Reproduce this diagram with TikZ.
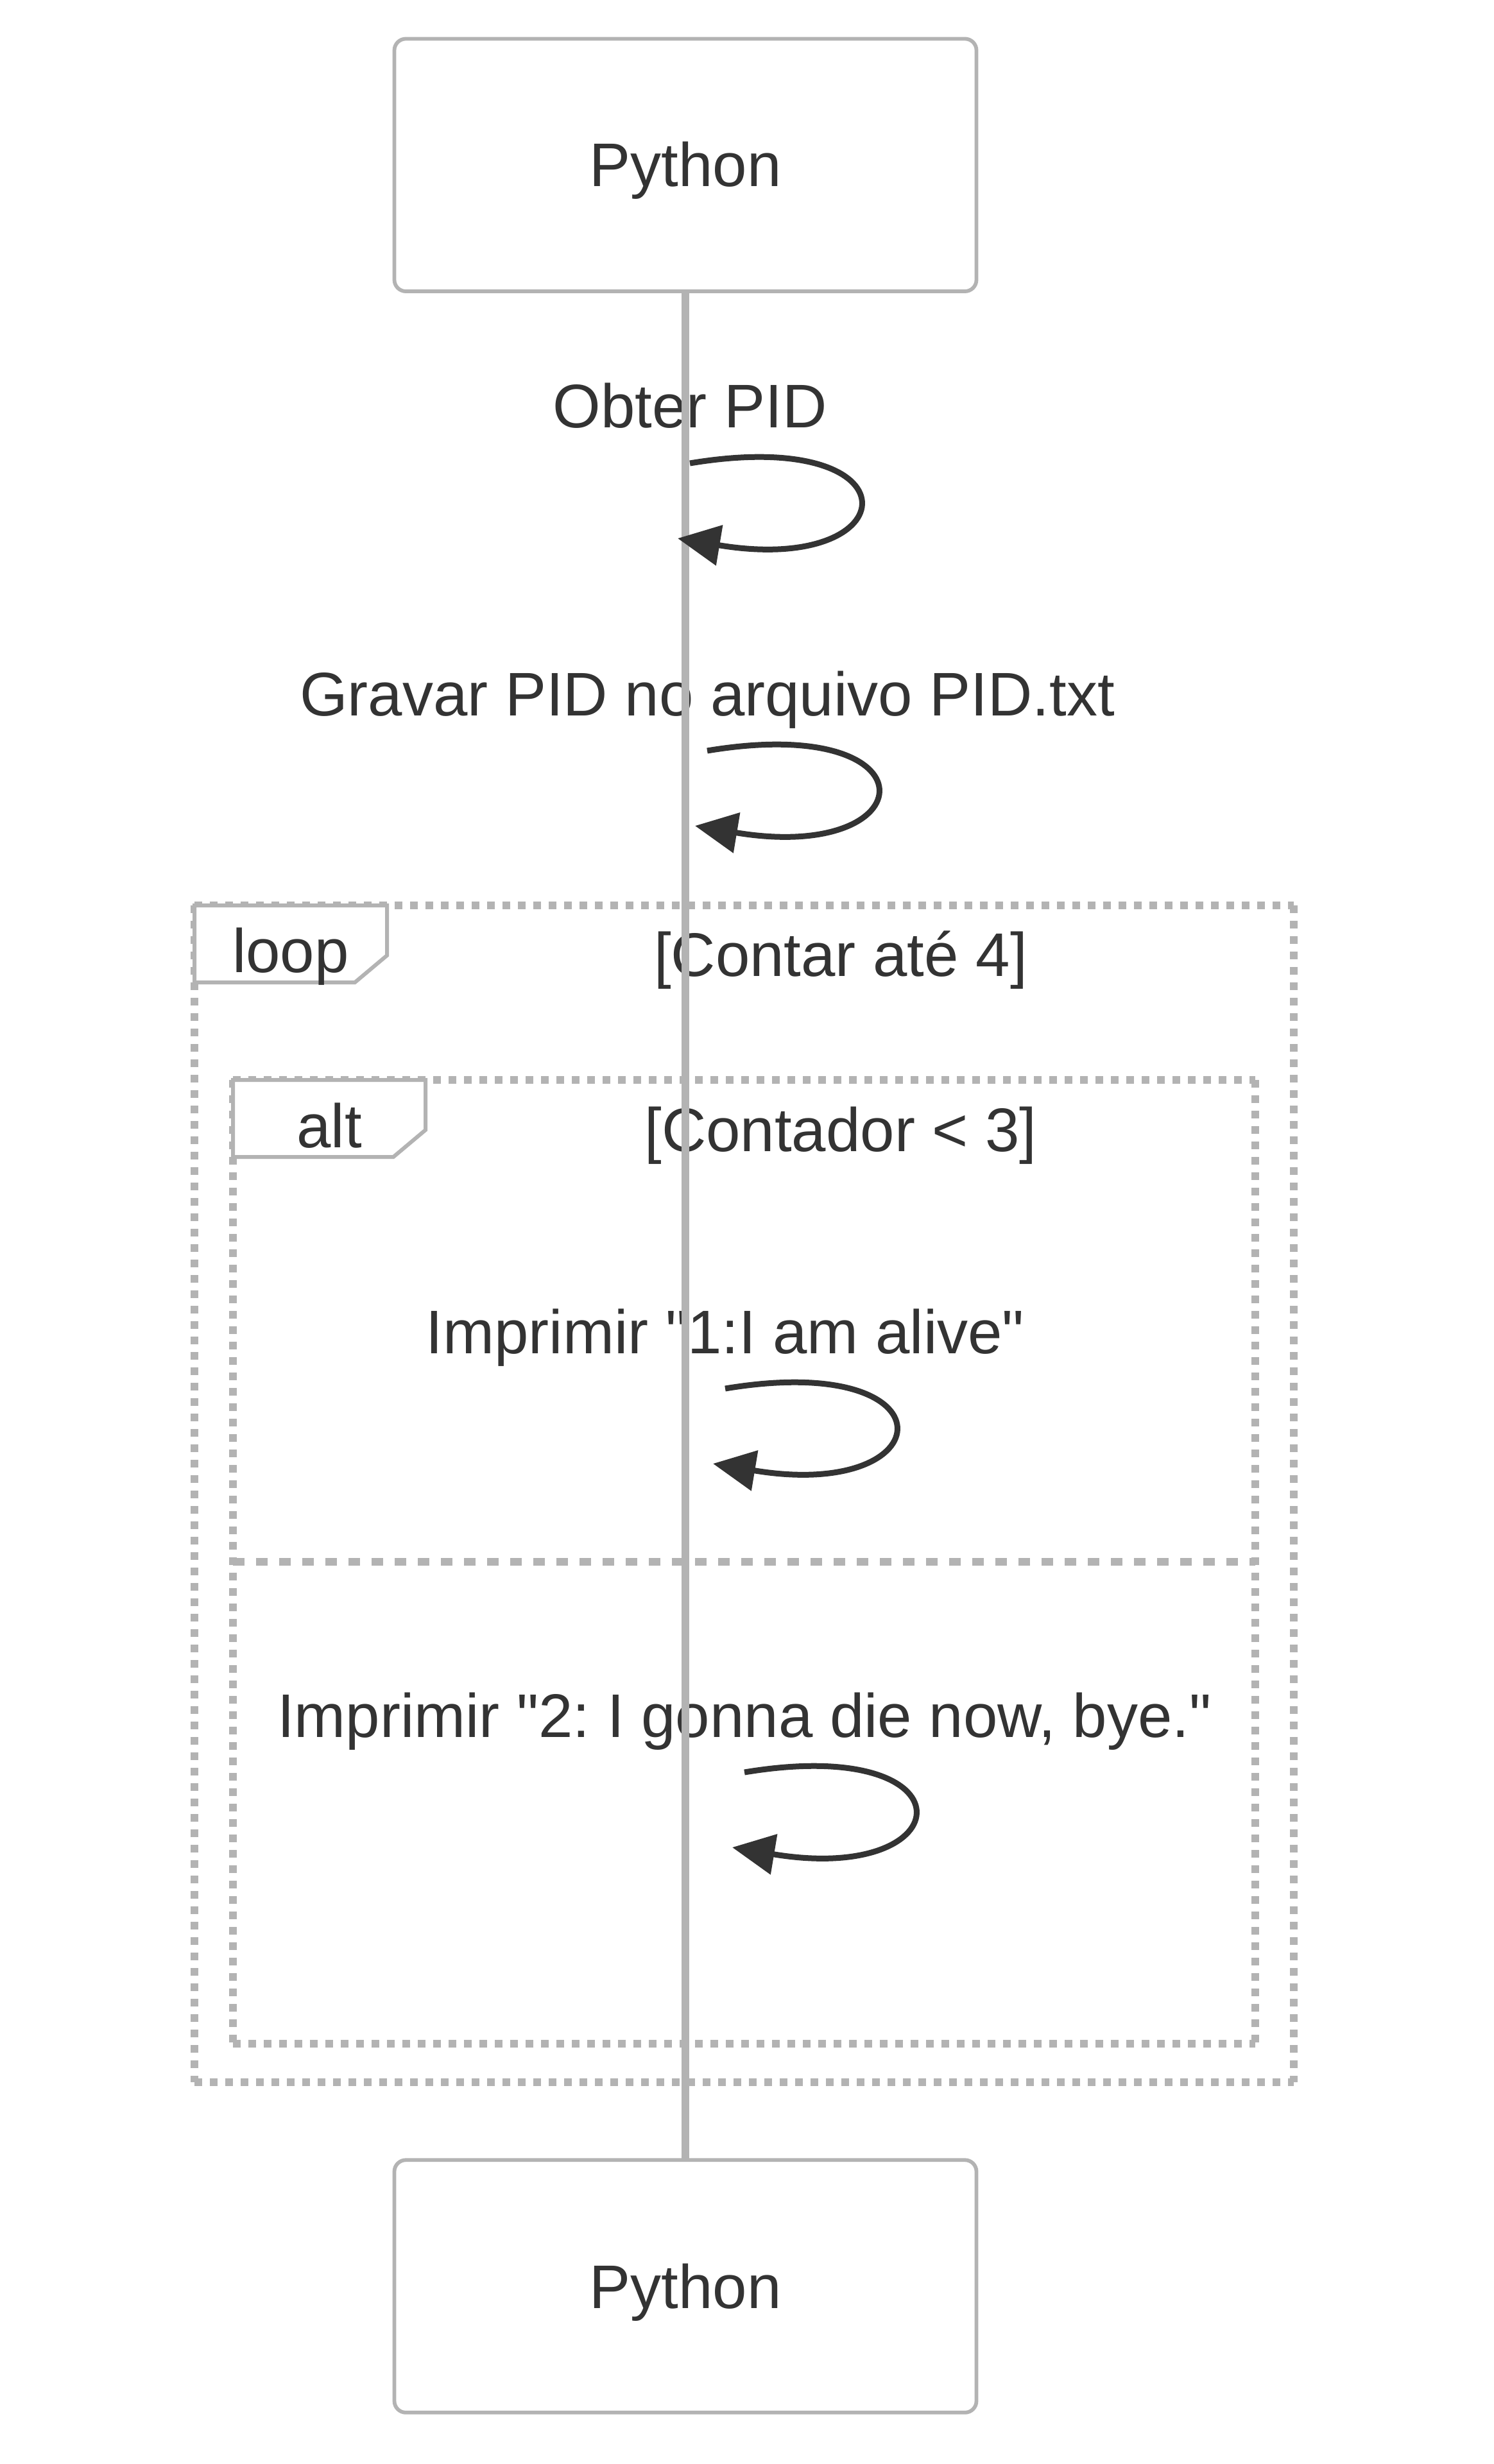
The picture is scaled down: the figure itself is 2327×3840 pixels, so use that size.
\documentclass[tikz,border=0pt]{standalone}
\usepackage{fontspec}
\setmainfont{Liberation Sans}[Ligatures=TeXOff]
\usetikzlibrary{arrows.meta}
\definecolor{ink}{HTML}{333333}
\definecolor{lineg}{HTML}{B3B3B3}
\frenchspacing
\begin{document}
\begin{tikzpicture}[x=0.25pt,y=-0.25pt,
  font=\fontsize{24pt}{28pt}\selectfont,
  actorbox/.style={draw=lineg, line width=1.45pt, fill=white, rounded corners=4.5pt,
    minimum width=226.75pt, minimum height=98.4pt, outer sep=0pt, inner sep=0pt},
  lifeline/.style={draw=lineg, line width=2.8pt},
  frameline/.style={draw=lineg, line width=3pt, dash pattern=on 3pt off 3pt},
  sepline/.style={draw=lineg, line width=3pt, dash pattern=on 4.5pt off 4.5pt},
  labelbox/.style={draw=lineg, line width=1.5pt, fill=white},
  txt/.style={text=ink, inner sep=0pt, anchor=base},
  msg/.style={draw=ink, line width=2.25pt, -{Triangle[length=16.5pt,width=15.5pt]}}
]
\useasboundingbox[fill=white] (0,0) rectangle (2327,3840);

% frame corners
\coordinate (loopNW) at (303,1411);
\coordinate (loopSE) at (2016,3245);
\coordinate (altNW) at (363,1683);
\coordinate (altSE) at (1956,3185);
\coordinate (sepW) at (363,2434);
\coordinate (sepE) at (1956,2434);

% loop frame
\draw[frameline] (loopNW) -- (loopNW -| loopSE);
\draw[frameline] (loopNW -| loopSE) -- (loopSE);
\draw[frameline] (loopNW |- loopSE) -- (loopSE);
\draw[frameline] (loopNW) -- (loopNW |- loopSE);
\draw[labelbox] (loopNW) -- ++(300,0) -- ++(0,78) -- ++(-50,42) -- ++(-250,0) -- cycle;
\node[txt] (looplabel) at (453,1515) {loop};
\node[txt] (loopcond) at (1310,1521) {[Contar até 4]};

% alt frame
\draw[frameline] (altNW) -- (altNW -| altSE);
\draw[frameline] (altNW -| altSE) -- (altSE);
\draw[frameline] (altNW |- altSE) -- (altSE);
\draw[frameline] (altNW) -- (altNW |- altSE);
\draw[labelbox] (altNW) -- ++(300,0) -- ++(0,78) -- ++(-50,42) -- ++(-250,0) -- cycle;
\node[txt] (altlabel) at (513,1788) {alt};
\node[txt] (altcond) at (1310,1794) {[Contador < 3]};
\draw[sepline] (sepW) -- (sepE);

% message texts
\node[txt] (t1) at (1075,667) {Obter PID};
\node[txt] (t2) at (1102,1115) {Gravar PID no arquivo PID.txt};
\node[txt] (t3) at (1130,2109) {Imprimir "1:I am alive"};
\node[txt] (t4) at (1160,2707) {Imprimir "2: I gonna die now, bye."};

% actors
\node[actorbox] (topbox) at (1068,257.25) {};
\node[txt] (toplabel) at (1068,291) {Python};
\node[actorbox] (botbox) at (1068,3563) {};
\node[txt] (botlabel) at (1068,3597) {Python};

% lifeline
\draw[lifeline] (topbox.south) -- (botbox.north);

% self messages
\coordinate (m1s) at (1075,722);  \coordinate (m1e) at (1056,839);
\coordinate (m2s) at (1102,1170); \coordinate (m2e) at (1083,1287);
\coordinate (m3s) at (1130,2164); \coordinate (m3e) at (1111,2281);
\coordinate (m4s) at (1160,2762); \coordinate (m4e) at (1141,2879);
\draw[msg] (m1s) .. controls +(360,-60) and +(360,60) .. (m1e);
\draw[msg] (m2s) .. controls +(360,-60) and +(360,60) .. (m2e);
\draw[msg] (m3s) .. controls +(360,-60) and +(360,60) .. (m3e);
\draw[msg] (m4s) .. controls +(360,-60) and +(360,60) .. (m4e);
\end{tikzpicture}
\end{document}
